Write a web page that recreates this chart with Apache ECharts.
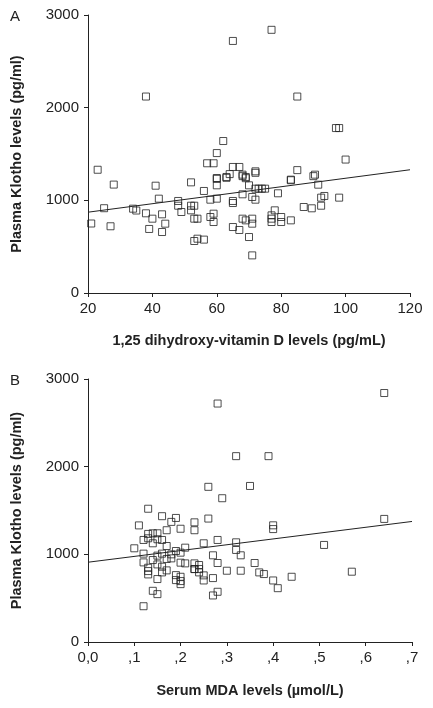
<!DOCTYPE html>
<html>
<head>
<meta charset="utf-8">
<script src="https://cdn.jsdelivr.net/npm/echarts@6/dist/echarts.min.js"></script>
<style>html,body{margin:0;padding:0;background:#fff;}#c{width:433px;height:708px;}</style>
</head>
<body>
<div id="c"></div>
<script>
// Panel A: 1,25 dihydroxy-vitamin D (pg/mL) vs Plasma Klotho (pg/ml)
const vitD = [65,77,38,85,97,98,100,62,60,57,59,65,67,64,68,69,72,85,90,23,60,63,83,
  21,28,25,27,34,35,38,40,39,41,42,43,43,44,48,48,49,52,52,53,52,53,54,53,54,56,56,58,58,59,59,60,60,60,63,
  65,65,65,67,68,68,68,69,69,70,70,71,71,71,71,72,72,72,73,74,75,77,77,77,78,79,80,80,83,83,87,89.5,90.5,91.5,92.4,93.4,92.4,98];
const klothoA = [2720,2840,2120,2120,1780,1780,1440,1640,1510,1400,1400,1360,1360,1283,1261,1239,1297,1326,1261,1330,1232,1243,1217,
  750,1170,915,720,910,890,860,802,691,1158,1018,849,658,748,993,942,874,1194,942,942,892,802,802,561,586,576,1101,1007,820,856,766,1241,1162,1018,1252,
  993,971,712,680,1065,802,1277,1252,784,1162,604,1036,802,748,406,1313,1007,1126,1126,1126,1126,838,802,766,892,1076,820,766,1223,784,928,914,1277,1169,1029,1047,942,1029];
const trendA = [[20, 872], [120, 1330]];

// Panel B: Serum MDA (µmol/L) vs Plasma Klotho (pg/ml)
const mda = [0.28,0.64,0.32,0.39,0.26,0.35,0.29,0.13,0.16,0.19,0.18,0.23,0.26,0.11,0.20,0.64,0.40,0.40,0.17,0.23,
  0.10,0.12,0.12,0.12,0.13,0.14,0.15,0.12,0.13,0.14,0.15,0.16,0.17,0.13,0.13,0.13,0.14,0.14,0.15,0.15,0.15,0.15,0.16,0.16,0.16,0.17,0.17,
  0.18,0.18,0.19,0.19,0.19,0.20,0.20,0.20,0.20,0.20,0.21,0.21,0.23,0.23,0.23,0.24,0.24,0.24,0.25,0.25,0.25,
  0.27,0.27,0.27,0.28,0.28,0.28,0.30,0.32,0.32,0.33,0.33,0.36,0.37,0.38,0.40,0.41,0.44,0.51,0.57,0.60,0.62];
const klothoB = [2720,2840,2120,2120,1770,1780,1640,1520,1435,1415,1370,1365,1408,1330,1292,1404,1331,1288,1275,1275,
  1069,1008,908,408,1233,1240,1240,1164,1183,1126,1172,1164,947,847,809,771,935,584,546,985,885,718,859,794,1008,817,1095,
  954,1000,763,706,1038,744,695,660,1019,905,1076,897,832,897,832,794,878,832,760,
  1126,702,531,989,729,573,901,1164,813,1137,1050,813,989,901,794,775,702,614,744,1107,802];
const trendB = [[0, 910], [0.7, 1375]];

const yTicks = [0, 1000, 2000, 3000];
const mdaTickLabels = ['0,0', ',1', ',2', ',3', ',4', ',5', ',6', ',7'];

const pairs = (xs, ys) => xs.map((x, i) => [x, ys[i]]);
const ink = '#222';
const font = 'Liberation Sans, Arial, sans-serif';

const axisCommon = {
  axisLine: { show: true, lineStyle: { color: ink, width: 1 } },
  axisTick: { show: true, inside: false, length: 4, lineStyle: { color: ink } },
  splitLine: { show: false },
  axisLabel: { color: ink, fontFamily: font, fontSize: 15 },
  nameTextStyle: { color: ink, fontFamily: font, fontSize: 14.5, fontWeight: 'bold' }
};

const chart = echarts.init(document.getElementById('c'), null, { renderer: 'canvas' });
chart.setOption({
  animation: false,
  backgroundColor: '#fff',
  grid: [
    { left: 88, top: 15, width: 322, height: 278 },
    { left: 88, top: 379, width: 324, height: 263 }
  ],
  xAxis: [
    Object.assign({}, axisCommon, {
      gridIndex: 0, type: 'value', min: 20, max: 120, interval: 20,
      name: '1,25 dihydroxy-vitamin D levels (pg/mL)', nameLocation: 'middle', nameGap: 40,
      axisLabel: Object.assign({}, axisCommon.axisLabel, { margin: 8, formatter: v => String(v) })
    }),
    Object.assign({}, axisCommon, {
      gridIndex: 1, type: 'value', min: 0, max: 0.7, interval: 0.1,
      name: 'Serum MDA levels (µmol/L)', nameLocation: 'middle', nameGap: 41,
      axisLabel: Object.assign({}, axisCommon.axisLabel, {
        margin: 8,
        formatter: v => mdaTickLabels[Math.round(v * 10)]
      })
    })
  ],
  yAxis: [0, 1].map(g => Object.assign({}, axisCommon, {
    gridIndex: g, type: 'value', min: yTicks[0], max: yTicks[yTicks.length - 1], interval: 1000,
    name: 'Plasma Klotho levels (pg/ml)', nameLocation: 'middle', nameGap: 64,
    axisLabel: Object.assign({}, axisCommon.axisLabel, { margin: 9, formatter: v => String(v) })
  })),
  graphic: [
    { type: 'text', left: 10, top: 9, style: { text: 'A', font: '15px ' + font, fill: ink } },
    { type: 'text', left: 10, top: 373, style: { text: 'B', font: '15px ' + font, fill: ink } }
  ],
  series: [
    {
      type: 'scatter', xAxisIndex: 0, yAxisIndex: 0, data: pairs(vitD, klothoA),
      symbol: 'rect', symbolSize: 7,
      itemStyle: { color: 'rgba(0,0,0,0)', borderColor: ink, borderWidth: 1 }
    },
    {
      type: 'line', xAxisIndex: 0, yAxisIndex: 0, data: trendA, symbol: 'none',
      lineStyle: { color: ink, width: 1 }
    },
    {
      type: 'scatter', xAxisIndex: 1, yAxisIndex: 1, data: pairs(mda, klothoB),
      symbol: 'rect', symbolSize: 7,
      itemStyle: { color: 'rgba(0,0,0,0)', borderColor: ink, borderWidth: 1 }
    },
    {
      type: 'line', xAxisIndex: 1, yAxisIndex: 1, data: trendB, symbol: 'none',
      lineStyle: { color: ink, width: 1 }
    }
  ]
});
</script>
</body>
</html>
